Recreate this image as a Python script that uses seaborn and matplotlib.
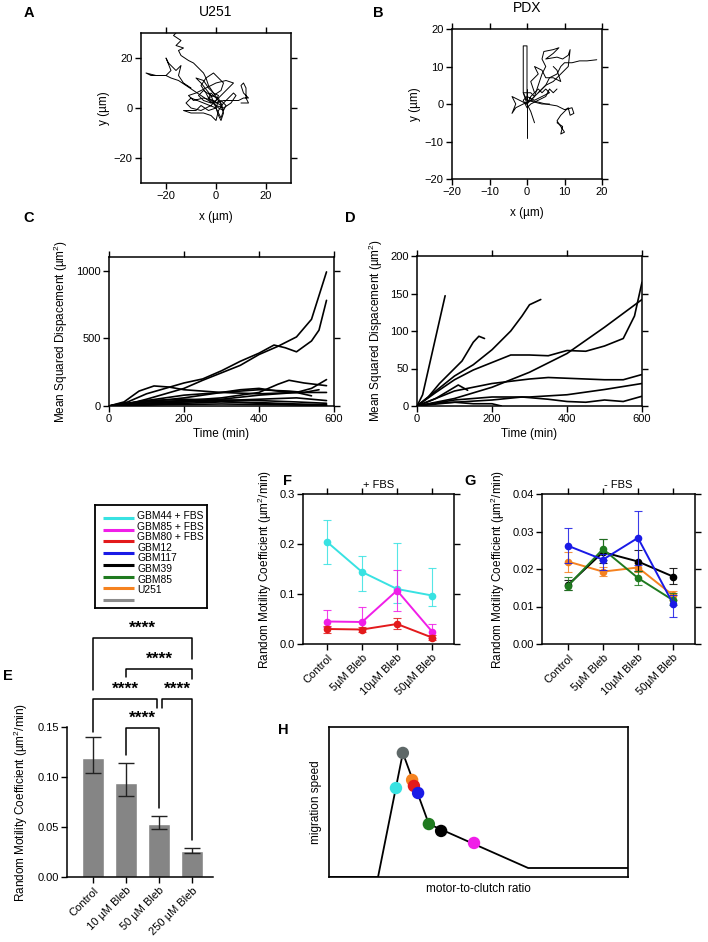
import numpy as np
import pandas as pd
import matplotlib
matplotlib.use('Agg')
import matplotlib.pyplot as plt
import seaborn as sns

# ---------------- DATA ----------------
# Panel A: U251 cell tracks (x, y in um)
u251_tracks = [
    [(0, 0), (1, 3), (-1, 6), (-3, 9), (-4, 12), (-5, 14), (-7, 16), (-9, 18), (-11, 19), (-14, 21),
     (-15, 23), (-13, 24), (-16, 25), (-14, 27), (-17, 29), (-16, 30)],
    [(0, 1), (-3, 3), (-6, 5), (-9, 7), (-12, 9), (-15, 11), (-18, 12), (-20, 13), (-24, 13), (-28, 14),
     (-26, 13), (-20, 13), (-18, 15), (-20, 20), (-19, 18), (-16, 15), (-14, 17), (-15, 13), (-13, 10), (-10, 8)],
    [(0, 2), (3, 3), (6, 3), (9, 3), (11, 4), (13, 4), (11, 6), (10, 9), (11, 10), (12, 8), (12, 4), (13, 2), (10, 2)],
    [(0, 0), (-5, 2), (-10, 4), (-12, 2), (-10, 0), (-6, -1), (-2, 1), (2, 5), (5, 8), (7, 10), (4, 11), (0, 10),
     (-4, 8), (-8, 6), (-11, 5), (-9, 3), (-5, 4), (-1, 3), (2, 1), (3, -2), (2, -5), (1, -3), (0, 0)],
    [(0, 0), (-3, -1), (-6, 1), (-8, -1), (-13, -1), (-10, -2), (-5, -2), (-2, -3), (0, -5), (1, -1), (3, 2),
     (5, 4), (7, 6), (8, 5), (6, 2), (3, 0), (0, 1)],
    [(-2, 2), (-4, 6), (-6, 9), (-4, 12), (-1, 14), (1, 12), (3, 10), (2, 7), (-1, 5), (-3, 4), (0, 2), (2, 3), (4, 1)],
    [(0, 0), (-2, 5), (-6, 10), (-8, 12), (-5, 11), (-3, 8), (-1, 6), (1, 5), (0, 3), (-2, 2), (-5, 3), (-7, 5),
     (-5, 7), (-2, 5), (1, 4), (2, 1)],
    [(0, 0), (1, -2), (2, -4), (3, -1), (2, 2), (0, 4), (-2, 6), (-3, 4), (-1, 2), (1, 0), (3, -1), (4, 1)],
]

# Panel B: PDX cell tracks (x, y in um)
pdx_tracks = [
    [(0, 4), (0, 0), (0, -3), (0, -6), (0, -9)],
    [(0, 0), (-1, 3), (-1, 7), (-1, 11), (-1, 14), (-1, 15.5), (0, 15.5), (0, 12), (0, 8), (0, 4), (0, 1)],
    [(0, 0), (1, 1), (3, 3), (5, 5), (6, 7), (8, 8), (9, 10), (10, 11), (12, 11), (14, 11.5), (16, 11.5), (18.6, 11.8)],
    [(2, 2), (3, 5), (4, 8), (5, 10), (4, 12), (4.5, 14), (7, 14.5), (8.5, 15), (7, 13.5), (5, 12), (8, 12.5),
     (9.5, 12), (11, 13), (11.5, 14.5), (11, 10), (9, 8), (7, 6), (5, 5), (3, 3)],
    [(1, 1), (3, 0.5), (5, 0), (8, -0.5), (10, -1.5), (12, -1), (12.5, -2.5), (11.5, -3), (11, -1), (10, -2),
     (9, -3), (8, -4.5), (9, -6), (10, -7.5), (9, -8), (9.5, -6), (8, -5)],
    [(0, 0), (-2, 1), (-4, 2), (-3, 0), (-4, -2.5), (-3, -1), (-1, 0), (1, 1), (2, 2), (1, 3), (-1, 3), (0, 1)],
    [(0, 0), (1, -2), (2, -5)],
    [(0, 1), (2, 0.5), (4, 0), (6, 0)],
    [(0, 0), (1, 2), (2, 3), (3, 4), (4, 3), (5, 4), (6, 3), (4, 2), (2, 1), (0, 2), (-1, 1), (0, -1), (1, 0),
     (3, 1), (5, 2), (6, 4), (7, 3), (8, 4)],
    [(2, 3), (1, 6), (3, 8), (2, 10), (4, 9), (5, 7), (7, 7), (9, 6), (8, 9), (7, 10)],
]

# Panel C: U251 MSD curves (time min, MSD um^2)
u251_msd = [
    ([0, 50, 100, 150, 200, 250, 300, 350, 400, 450, 500, 540, 580],
     [0, 15, 50, 90, 130, 190, 245, 300, 380, 440, 510, 640, 990]),
    ([0, 50, 100, 150, 200, 250, 300, 350, 400, 440, 470, 500, 540, 560, 580],
     [0, 30, 90, 130, 170, 200, 260, 330, 390, 450, 430, 400, 480, 560, 780]),
    ([0, 40, 80, 120, 160, 200, 300, 400, 500, 580], [0, 30, 110, 148, 140, 120, 100, 90, 100, 100]),
    ([0, 100, 200, 300, 400, 450, 480, 520, 580], [0, 20, 40, 60, 100, 160, 190, 170, 150]),
    ([0, 100, 200, 300, 400, 450, 500, 540, 580], [0, 15, 30, 50, 80, 90, 100, 130, 195]),
    ([0, 100, 200, 300, 350, 400, 450, 500, 540], [0, 30, 60, 100, 120, 130, 110, 100, 75]),
    ([0, 100, 200, 300, 400, 480, 520, 560], [0, 40, 80, 100, 120, 110, 100, 120]),
    ([0, 100, 200, 300, 400, 500, 580], [0, 40, 50, 45, 40, 30, 20]),
    ([0, 100, 200, 300, 400, 500, 580], [0, 20, 30, 40, 50, 60, 40]),
    ([0, 100, 200, 300, 400, 500, 580], [0, 10, 20, 30, 25, 15, 10]),
    ([0, 100, 200, 300, 400, 500, 580], [0, 30, 40, 35, 20, 10, 5]),
    ([0, 150, 300, 450, 580], [0, 10, 15, 10, 5]),
]

# Panel D: PDX MSD curves
pdx_msd = [
    ([0, 15, 40, 75], [0, 15, 70, 147]),
    ([0, 30, 60, 90, 120, 150, 165, 180], [0, 12, 30, 45, 60, 85, 93, 90]),
    ([0, 50, 100, 150, 200, 250, 280, 300, 330], [0, 20, 40, 55, 75, 100, 120, 135, 142]),
    ([0, 50, 100, 150, 200, 250, 300, 350, 400, 450, 500, 550, 580, 600],
     [0, 18, 35, 48, 58, 68, 68, 67, 74, 73, 80, 90, 120, 165]),
    ([0, 100, 200, 300, 400, 500, 600], [0, 10, 25, 45, 70, 105, 142]),
    ([0, 50, 100, 200, 300, 350, 400, 500, 550, 600], [0, 10, 20, 30, 36, 38, 37, 35, 35, 42]),
    ([0, 100, 200, 300, 400, 500, 600], [0, 8, 12, 12, 15, 22, 30]),
    ([0, 100, 200, 280, 350, 400, 450, 500, 550, 600], [0, 5, 8, 12, 9, 6, 5, 8, 6, 13]),
    ([0, 50, 100, 110, 135], [0, 10, 25, 28, 21]),
    ([0, 50, 100, 150, 200, 225], [0, 4, 5, 3, 3, 0]),
]

# Legend
legend_labels = ['GBM44 + FBS', 'GBM85 + FBS', 'GBM80 + FBS', 'GBM12', 'GBM117', 'GBM39', 'GBM85', 'U251']
legend_colors = ['#38E2E2', '#F01EE8', '#E31A1C', '#1A1AE6', '#000000', '#1F7A1F', '#F5821F', '#8C8C8C']

# Panel E
e_cats = ['Control', '10 µM Bleb', '50 µM Bleb', '250 µM Bleb']
e_mean = [0.119, 0.094, 0.053, 0.026]
e_low = [0.104, 0.081, 0.048, 0.024]
e_high = [0.140, 0.114, 0.061, 0.029]
e_stars = ['****', '****', '****', '****', '****']

# Panel F (+FBS)
fg_cats = ['Control', '5µM Bleb', '10µM Bleb', '50µM Bleb']
f_gbm44 = [0.204, 0.144, 0.110, 0.097]
f_gbm44_lo = [0.161, 0.106, 0.083, 0.076]
f_gbm44_hi = [0.248, 0.177, 0.202, 0.152]
f_gbm85 = [0.045, 0.044, 0.107, 0.025]
f_gbm85_lo = [0.035, 0.030, 0.067, 0.013]
f_gbm85_hi = [0.068, 0.075, 0.149, 0.040]
f_gbm80 = [0.030, 0.029, 0.040, 0.013]
f_gbm80_lo = [0.023, 0.025, 0.030, 0.009]
f_gbm80_hi = [0.036, 0.034, 0.052, 0.018]

# Panel G (-FBS)
g_gbm85 = [0.0220, 0.0193, 0.0204, 0.0130]
g_gbm85_lo = [0.0193, 0.0182, 0.0192, 0.0118]
g_gbm85_hi = [0.0245, 0.0205, 0.0216, 0.0142]
g_gbm117 = [0.0157, 0.0245, 0.0220, 0.0180]
g_gbm117_lo = [0.0145, 0.0215, 0.0195, 0.0160]
g_gbm117_hi = [0.0170, 0.0280, 0.0250, 0.0203]
g_gbm39 = [0.0155, 0.0253, 0.0176, 0.0117]
g_gbm39_lo = [0.0143, 0.0225, 0.0158, 0.0105]
g_gbm39_hi = [0.0180, 0.0280, 0.0195, 0.0135]
g_gbm12 = [0.0262, 0.0225, 0.0283, 0.0108]
g_gbm12_lo = [0.0216, 0.0198, 0.0212, 0.0071]
g_gbm12_hi = [0.0309, 0.0240, 0.0354, 0.0130]

# Panel H (schematic)
h_curve_x = [0, 16.4, 24.7, 33.4, 66.6, 100]
h_curve_y = [0, 0, 82.7, 35.3, 6, 6]
h_pts_x = [24.7, 22.4, 27.8, 28.4, 29.8, 33.4, 37.5, 48.5]
h_pts_y = [82.7, 59.3, 64.7, 60.7, 56.0, 35.3, 30.7, 22.7]
h_pts_colors = ['#5E6868', '#38E2E2', '#F5821F', '#E31A1C', '#1A1AE6', '#1F7A1F', '#000000', '#F01EE8']

# ---------------- STYLE ----------------
sns.set_theme(style='ticks')
plt.rcParams['font.family'] = ['Liberation Sans', 'DejaVu Sans']
plt.rcParams['mathtext.fontset'] = 'custom'
plt.rcParams['mathtext.rm'] = 'Liberation Sans'
plt.rcParams['mathtext.it'] = 'Liberation Sans:italic'
plt.rcParams['mathtext.bf'] = 'Liberation Sans:bold'
for k in ['axes.edgecolor', 'xtick.color', 'ytick.color', 'text.color', 'axes.labelcolor']:
    plt.rcParams[k] = 'black'
plt.rcParams['axes.linewidth'] = 1.1

W, H = 708, 942
fig = plt.figure(figsize=(W / 100, H / 100), dpi=100)
fig.patch.set_facecolor('white')


def px_axes(x0, y0, x1, y1):
    return fig.add_axes([x0 / W, 1 - y1 / H, (x1 - x0) / W, (y1 - y0) / H])


def box_ticks(ax):
    for s in ax.spines.values():
        s.set_visible(True)
        s.set_linewidth(1.1)
    ax.tick_params(direction='out', top=True, right=True, labeltop=False, labelright=False,
                   length=4, width=1.0, labelsize=8, pad=2)


def tracks_df(tracks):
    rows = []
    for i, tr in enumerate(tracks):
        for j, (x, y) in enumerate(tr):
            rows.append({'x': x, 'y': y, 'track': i, 'order': j})
    return pd.DataFrame(rows)


def msd_df(curves):
    rows = []
    for i, (t, m) in enumerate(curves):
        for a, b in zip(t, m):
            rows.append({'t': a, 'msd': b, 'cell': i})
    return pd.DataFrame(rows)


def panel_letter(x, y, s):
    fig.text(x / W, 1 - y / H, s, fontsize=10.5, fontweight='bold', ha='center', va='center')


# ---------------- A ----------------
axA = px_axes(141, 33, 291, 183)
sns.lineplot(data=tracks_df(u251_tracks), x='x', y='y', units='track', estimator=None, sort=False,
             color='black', lw=0.7, ax=axA)
axA.set_xlim(-30, 30)
axA.set_ylim(-30, 30)
axA.set_xticks([-20, 0, 20])
axA.set_yticks([-20, 0, 20])
box_ticks(axA)
axA.set_xlabel('x (µm)', fontsize=8.5, labelpad=7)
axA.set_ylabel('y (µm)', fontsize=8.5, labelpad=3)
axA.set_title('U251', fontsize=10, pad=12)
panel_letter(29, 13, 'A')

# ---------------- B ----------------
axB = px_axes(452, 29, 602, 179)
sns.lineplot(data=tracks_df(pdx_tracks), x='x', y='y', units='track', estimator=None, sort=False,
             color='black', lw=0.7, ax=axB)
axB.set_xlim(-20, 20)
axB.set_ylim(-20, 20)
axB.set_xticks([-20, -10, 0, 10, 20])
axB.set_yticks([-20, -10, 0, 10, 20])
box_ticks(axB)
axB.set_xlabel('x (µm)', fontsize=8.5, labelpad=7)
axB.set_ylabel('y (µm)', fontsize=8.5, labelpad=3)
axB.set_title('PDX', fontsize=10, pad=12)
panel_letter(378, 13, 'B')

# ---------------- C ----------------
axC = px_axes(109, 257, 334, 406)
sns.lineplot(data=msd_df(u251_msd), x='t', y='msd', units='cell', estimator=None, sort=False,
             color='black', lw=1.2, ax=axC)
axC.set_xlim(0, 600)
axC.set_ylim(0, 1100)
axC.set_xticks([0, 200, 400, 600])
axC.set_yticks([0, 500, 1000])
box_ticks(axC)
axC.set_xlabel('Time (min)', fontsize=8.5, labelpad=3)
axC.set_ylabel('Mean Squared Dispacement (µm$^2$)', fontsize=8.5, labelpad=4)
panel_letter(29, 218, 'C')

# ---------------- D ----------------
axD = px_axes(417, 256, 642, 406)
sns.lineplot(data=msd_df(pdx_msd), x='t', y='msd', units='cell', estimator=None, sort=False,
             color='black', lw=1.2, ax=axD)
axD.set_xlim(0, 600)
axD.set_ylim(0, 200)
axD.set_xticks([0, 200, 400, 600])
axD.set_yticks([0, 50, 100, 150, 200])
box_ticks(axD)
axD.set_xlabel('Time (min)', fontsize=8.5, labelpad=3)
axD.set_ylabel('Mean Squared Dispacement (µm$^2$)', fontsize=8.5, labelpad=4)
panel_letter(350, 218, 'D')

# ---------------- Legend box ----------------
axL = px_axes(95, 505, 207, 608)
axL.set_xlim(0, 112)
axL.set_ylim(103, 0)
axL.set_xticks([])
axL.set_yticks([])
for s in axL.spines.values():
    s.set_visible(True)
    s.set_linewidth(1.3)
line_y0, line_dy = 13, 11.7
text_y0, text_dy = 11, 10.6
for i, c in enumerate(legend_colors):
    yy = line_y0 + i * line_dy
    axL.plot([8, 39], [yy, yy], color=c, lw=2.2, solid_capstyle='butt')
for i, lab in enumerate(legend_labels):
    axL.text(42, text_y0 + i * text_dy, lab, fontsize=7.4, va='center', ha='left')

# ---------------- E ----------------
axE = px_axes(67, 617, 213, 877)
sns.barplot(x=list(range(len(e_cats))), y=e_mean, color='#858585', width=0.67, errorbar=None,
            saturation=1, ax=axE, native_scale=True)
yerr = np.array([np.array(e_mean) - np.array(e_low), np.array(e_high) - np.array(e_mean)])
axE.errorbar(range(len(e_cats)), e_mean, yerr=yerr, fmt='none', ecolor='#222222', elinewidth=1.0,
             capsize=5.5, capthick=1.0)
axE.set_xlim(-0.79, 3.64)
axE.set_ylim(0, 0.26)
axE.set_yticks([0, 0.05, 0.10, 0.15])
axE.set_yticklabels(['0.00', '0.05', '0.10', '0.15'])
axE.set_xticks(range(len(e_cats)))
axE.set_xticklabels(e_cats, rotation=45, ha='right', rotation_mode='anchor')
sns.despine(ax=axE)
axE.spines['left'].set_bounds(0, 0.15)
axE.tick_params(direction='out', length=4, width=1.0, labelsize=8, pad=2)
axE.set_ylabel('Random Motility Coefficient (µm$^2$/min)', fontsize=8.5)
axE.yaxis.set_label_coords(-0.25, 0.288)
brackets = [  # (x1, x2, height, leg1 end, leg2 end)
    (0, 3.0, 0.239, 0.187, 0.218),
    (1, 3.0, 0.208, 0.200, 0.198),
    (0, 1.94, 0.178, 0.145, 0.169),
    (2.09, 3.0, 0.178, 0.169, 0.037),
    (1, 2.0, 0.149, 0.122, 0.069),
]
for (x1, x2, h, l1, l2), st in zip(brackets, e_stars):
    axE.plot([x1, x1, x2, x2], [l1, h, h, l2], color='black', lw=1.1, clip_on=False)
    axE.text((x1 + x2) / 2, h + 0.0100, st, ha='center', va='center', fontsize=12.5, fontweight='bold',
             clip_on=False)
panel_letter(8, 676, 'E')


# ---------------- F & G ----------------
def series(ax, means, lo, hi, color):
    xs = list(range(len(means)))
    yerr = np.array([np.array(means) - np.array(lo), np.array(hi) - np.array(means)])
    ax.errorbar(xs, means, yerr=yerr, fmt='none', ecolor=color, elinewidth=0.8, capsize=3, capthick=0.8,
                alpha=0.85)
    sns.lineplot(x=xs, y=means, color=color, lw=1.4, marker='o', markersize=5.5, markeredgewidth=0,
                 ax=ax)


axF = px_axes(303, 494, 454, 644)
series(axF, f_gbm44, f_gbm44_lo, f_gbm44_hi, '#38E2E2')
series(axF, f_gbm85, f_gbm85_lo, f_gbm85_hi, '#F01EE8')
series(axF, f_gbm80, f_gbm80_lo, f_gbm80_hi, '#E31A1C')
axF.set_xlim(-0.69, 3.63)
axF.set_ylim(0, 0.3)
axF.set_yticks([0, 0.1, 0.2, 0.3])
axF.set_yticklabels(['0.0', '0.1', '0.2', '0.3'])
axF.set_xticks(range(4))
axF.set_xticklabels(fg_cats, rotation=45, ha='right', rotation_mode='anchor')
box_ticks(axF)
axF.set_ylabel('Random Motility Coefficient (µm$^2$/min)', fontsize=8.5, labelpad=4)
axF.set_title('+ FBS', fontsize=8, pad=4)
panel_letter(287, 481, 'F')

axG = px_axes(542, 494, 695, 644)
series(axG, g_gbm85, g_gbm85_lo, g_gbm85_hi, '#F5821F')
series(axG, g_gbm117, g_gbm117_lo, g_gbm117_hi, '#000000')
series(axG, g_gbm39, g_gbm39_lo, g_gbm39_hi, '#1F7A1F')
series(axG, g_gbm12, g_gbm12_lo, g_gbm12_hi, '#1A1AE6')
axG.set_xlim(-0.74, 3.63)
axG.set_ylim(0, 0.04)
axG.set_yticks([0, 0.01, 0.02, 0.03, 0.04])
axG.set_yticklabels(['0.00', '0.01', '0.02', '0.03', '0.04'])
axG.set_xticks(range(4))
axG.set_xticklabels(fg_cats, rotation=45, ha='right', rotation_mode='anchor')
box_ticks(axG)
axG.set_ylabel('Random Motility Coefficient (µm$^2$/min)', fontsize=8.5, labelpad=4)
axG.set_title('- FBS', fontsize=8, pad=4)
panel_letter(470, 481, 'G')

# ---------------- H ----------------
axH = px_axes(329, 727, 628, 877)
sns.lineplot(x=h_curve_x, y=h_curve_y, color='black', lw=1.3, sort=False, ax=axH)
sns.scatterplot(x=h_pts_x, y=h_pts_y, hue=list(range(len(h_pts_x))), palette=h_pts_colors, s=80,
                linewidth=0, legend=False, ax=axH, zorder=3)
axH.set_xlim(0, 100)
axH.set_ylim(0, 100)
axH.set_xticks([])
axH.set_yticks([])
for s in axH.spines.values():
    s.set_visible(True)
    s.set_linewidth(1.2)
axH.set_xlabel('motor-to-clutch ratio', fontsize=8.5, labelpad=4)
axH.set_ylabel('migration speed', fontsize=8.5, labelpad=5)
panel_letter(283, 730, 'H')

fig.savefig('out.png', dpi=100, facecolor='white')
